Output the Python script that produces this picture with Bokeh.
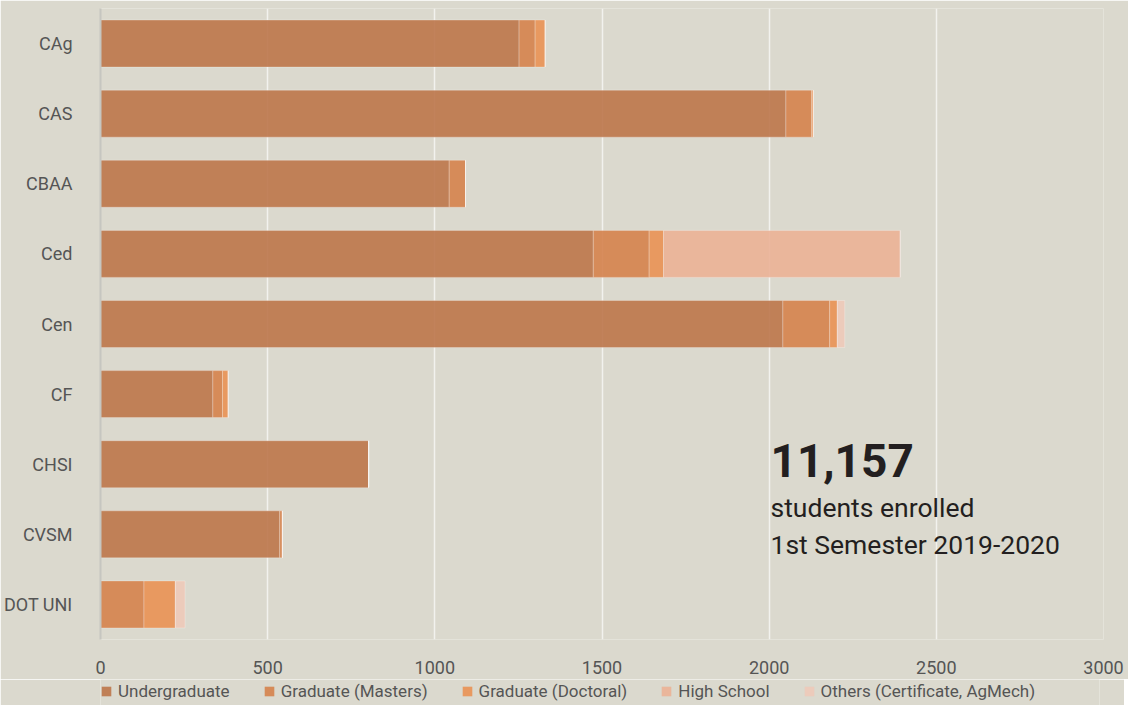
from bokeh.plotting import figure
from bokeh.layouts import column
from bokeh.models import ColumnDataSource, Legend, LegendItem, FixedTicker, Range1d, FactorRange
from bokeh.core.properties import value
from bokeh.embed import file_html
from bokeh.resources import INLINE

colleges = ["CAg", "CAS", "CBAA", "Ced", "Cen", "CF", "CHSI", "CVSM", "DOT UNI"]
undergraduate = [1252, 2050, 1043, 1474, 2041, 336, 802, 536, 0]
masters = [48, 77, 49, 167, 140, 29, 0, 8, 130]
doctoral = [30, 5, 0, 43, 23, 17, 0, 0, 94]
high_school = [0, 0, 0, 708, 0, 0, 0, 0, 0]
others = [0, 0, 0, 0, 22, 0, 0, 0, 29]
series_labels = ["Undergraduate", "Graduate (Masters)", "Graduate (Doctoral)",
                 "High School", "Others (Certificate, AgMech)"]
x_ticks = [0, 500, 1000, 1500, 2000, 2500, 3000]
total_text = "11,157"
sub_text_1 = "students enrolled"
sub_text_2 = "1st Semester 2019-2020"

colors = ["#bc764a", "#d5824c", "#e99154", "#ebb196", "#edc9b9"]
FONT = "Roboto"
BG = "#dbd9ce"

keys = ["ug", "ms", "phd", "hs", "oth"]
source = ColumnDataSource(dict(college=colleges, ug=undergraduate, ms=masters,
                               phd=doctoral, hs=high_school, oth=others))

p = figure(frame_width=1003, frame_height=631, y_range=FactorRange(*colleges[::-1]),
           x_range=Range1d(0, 3000), output_backend="svg", toolbar_location=None,
           min_border_left=96, min_border_right=25, min_border_top=8, min_border_bottom=40)
p.background_fill_color = BG
p.border_fill_color = BG
p.outline_line_color = None

p.hbar_stack(keys, y="college", height=0.67, source=source,
             fill_color=colors, fill_alpha=0.9,
             line_color="white", line_alpha=0.25, line_width=1)

p.xgrid.grid_line_color = "#f2f2ee"
p.xgrid.grid_line_width = 1.5
p.ygrid.grid_line_color = None
p.xaxis.ticker = FixedTicker(ticks=x_ticks)
p.xaxis.axis_line_color = None
p.xaxis.major_tick_line_color = None
p.xaxis.minor_tick_line_color = None
p.xaxis.major_label_standoff = 15
p.xaxis.major_label_text_font = FONT
p.xaxis.major_label_text_font_size = "18px"
p.xaxis.major_label_text_color = "#555555"

p.yaxis.axis_line_color = "#c6c6c0"
p.yaxis.axis_line_width = 2
p.yaxis.major_tick_line_color = None
p.yaxis.minor_tick_line_color = None
p.yaxis.major_label_standoff = 22
p.yaxis.major_label_text_font = FONT
p.yaxis.major_label_text_font_size = "18px"
p.yaxis.major_label_text_color = "#555555"

p.text(x=[2004], y=["CHSI"], text=[total_text], y_offset=[-4],
       text_font=value(FONT), text_font_size="46px", text_font_style="bold",
       text_color="#231f20", text_baseline="alphabetic")
p.text(x=[2004], y=["CHSI"], text=[sub_text_1], y_offset=[43],
       text_font=value(FONT), text_font_size="26.5px",
       text_color="#231f20", text_baseline="alphabetic")
p.text(x=[2004], y=["CHSI"], text=[sub_text_2], y_offset=[80],
       text_font=value(FONT), text_font_size="26.5px",
       text_color="#231f20", text_baseline="alphabetic")

# legend strip below the chart (zero-size helper glyphs only carry the legend swatches)
q = figure(width=1124, height=26, output_backend="svg", toolbar_location=None,
           x_axis_location=None, y_axis_location=None,
           x_range=Range1d(0, 1), y_range=Range1d(0, 1),
           min_border_left=0, min_border_right=0, min_border_top=0, min_border_bottom=0)
q.background_fill_color = BG
q.border_fill_color = BG
q.outline_line_color = None
q.grid.grid_line_color = None
legend_renderers = [q.hbar(y=[0], left=[0], right=[0], height=0, fill_color=c, fill_alpha=0.9,
                           line_color=None) for c in colors]
legend = Legend(items=[LegendItem(label=lab, renderers=[r]) for lab, r in zip(series_labels, legend_renderers)],
                orientation="horizontal", location=(0, 4),
                background_fill_alpha=0, border_line_color=None,
                label_text_font=FONT, label_text_font_size="17px", label_text_color="#555555",
                glyph_width=12, glyph_height=12, spacing=33, label_standoff=6,
                padding=0, margin=0, label_height=17)
q.add_layout(legend, "center")

layout = column(p, q, spacing=0)
open("out.html", "w").write(file_html(layout, INLINE))
